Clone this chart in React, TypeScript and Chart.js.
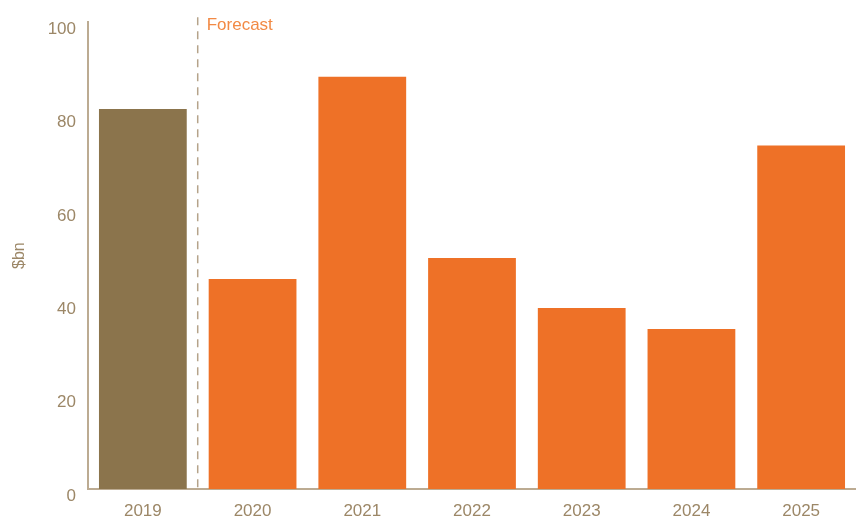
import React, { useEffect, useRef } from "react";
import { Chart, registerables } from "chart.js";

Chart.register(...registerables);

const categories = ["2019", "2020", "2021", "2022", "2023", "2024", "2025"];
const values = [81.4, 45.0, 88.3, 49.5, 38.8, 34.3, 73.6];
const barColors = ["#8B744C", "#EE7127", "#EE7127", "#EE7127", "#EE7127", "#EE7127", "#EE7127"];
const yTicks = [0, 20, 40, 60, 80, 100];
const forecastLabel = "Forecast";
const yTitle = "$bn";

const FONT = "'Liberation Sans', Arial, sans-serif";
const AXIS = "#BCAB92";
const TICK = "#9C8767";

const forecastPlugin = {
  id: "forecast",
  afterDatasetsDraw(chart: any) {
    const { ctx, chartArea, scales } = chart;
    const x0 = scales.x.getPixelForValue(0);
    const x1 = scales.x.getPixelForValue(1);
    const xm = (x0 + x1) / 2;
    ctx.save();
    ctx.strokeStyle = "#B5A38A";
    ctx.lineWidth = 1.5;
    ctx.setLineDash([8, 6]);
    ctx.beginPath();
    ctx.moveTo(xm, chartArea.top - 5);
    ctx.lineTo(xm, chartArea.bottom);
    ctx.stroke();
    ctx.setLineDash([]);
    ctx.fillStyle = "#F28A45";
    ctx.font = `17px ${FONT}`;
    ctx.textAlign = "left";
    ctx.textBaseline = "middle";
    ctx.fillText(forecastLabel, xm + 9, chartArea.top + 3);
    ctx.restore();
  },
};

export default function App() {
  const ref = useRef<HTMLCanvasElement | null>(null);
  useEffect(() => {
    if (!ref.current) return;
    const chart = new Chart(ref.current, {
      type: "bar",
      data: {
        labels: categories,
        datasets: [
          {
            data: values,
            backgroundColor: barColors,
            barPercentage: 0.8,
            categoryPercentage: 1.0,
          },
        ],
      },
      options: {
        animation: false,
        responsive: false,
        maintainAspectRatio: false,
        layout: { padding: { top: 18, right: 0, left: 0, bottom: 0 } },
        plugins: { legend: { display: false }, tooltip: { enabled: false } },
        scales: {
          x: {
            grid: { display: false, drawTicks: false },
            border: { color: AXIS, width: 2 },
            ticks: { color: TICK, font: { family: FONT, size: 17 }, padding: 12 },
            afterFit(scale: any) {
              scale.height = 28;
            },
          },
          y: {
            min: 0,
            max: 100,
            afterBuildTicks(scale: any) {
              scale.ticks = yTicks.map((v) => ({ value: v }));
            },
            grid: { display: false, drawTicks: false },
            border: { color: AXIS, width: 2 },
            ticks: {
              color: TICK,
              font: { family: FONT, size: 17 },
              padding: 12,
              labelOffset: 7,
            },
            title: {
              display: true,
              text: yTitle,
              color: TICK,
              font: { family: FONT, size: 16 },
              padding: { top: 10, bottom: 0 },
            },
            afterFit(scale: any) {
              scale.width = 88;
            },
          },
        },
      },
      plugins: [forecastPlugin],
    });
    return () => chart.destroy();
  }, []);
  return (
    <div style={{ position: "absolute", left: 0, top: 0, width: 856, height: 517 }}>
      <canvas ref={ref} width={856} height={517} style={{ display: "block" }} />
    </div>
  );
}
